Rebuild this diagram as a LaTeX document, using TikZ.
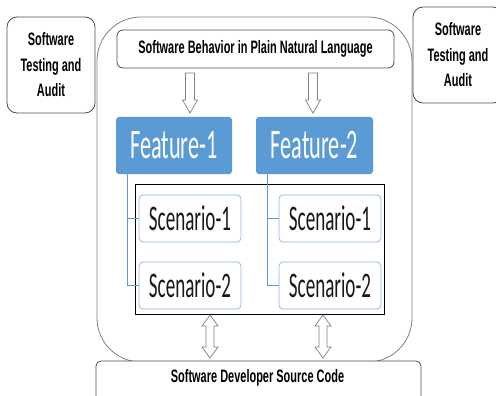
\documentclass[tikz,border=0pt]{standalone}
\usepackage{fontspec}
\newfontfamily\narrowfont[FakeStretch=0.61]{Liberation Sans}
\newfontfamily\calfont[FakeStretch=0.53]{Carlito}
\definecolor{featblue}{HTML}{5B9BD5}
\definecolor{scenblue}{HTML}{8EB4E3}
\definecolor{framegray}{HTML}{7F7F7F}
\tikzset{
  labeltext/.style={font=\narrowfont\bfseries\fontsize{18}{25.5}\selectfont, align=center, text=black},
  sidebox/.style={labeltext, draw=black!70, line width=0.8pt, rounded corners=10pt, inner sep=0pt},
  topbox/.style={labeltext, draw=black!70, line width=0.8pt, rounded corners=6pt, inner sep=0pt},
  featbox/.style={fill=featblue, rounded corners=3pt, inner sep=0pt, text=white,
    font=\calfont\fontsize{42}{44}\selectfont},
  scenbox/.style={draw=scenblue, line width=0.7pt, fill=white, rounded corners=4pt, inner sep=0pt,
    minimum width=102pt, minimum height=47pt, text=black!90, font=\calfont\fontsize{36}{38}\selectfont},
  tree/.style={draw=featblue, line width=0.7pt},
  hollow/.style={draw=framegray, fill=white, line width=0.7pt, line join=miter},
}
% hollow down arrow hanging from a named point (shaft 9, head 15 wide, 40 long)
\newcommand\hollowdown[1]{%
  \draw[hollow] (#1) ++(-4.5,0) -- ++(9,0) -- ++(0,27) -- ++(3,0) -- ++(-7.5,13)
    -- ++(-7.5,-13) -- ++(3,0) -- cycle;}
% hollow two-way arrow starting at a named top point (43 long)
\newcommand\hollowboth[1]{%
  \draw[hollow] (#1) -- ++(8,11) -- ++(-4,0) -- ++(0,21) -- ++(4,0) -- ++(-8,11)
    -- ++(-8,-11) -- ++(4,0) -- ++(0,-21) -- ++(-4,0) -- cycle;}
\begin{document}
\begin{tikzpicture}[x=1pt,y=-1pt]
\useasboundingbox (0,0) rectangle (496,396);
\clip (0,0) rectangle (496,396);

% outer frame around the behaviour description
\draw[framegray, line width=0.8pt, rounded corners=44pt] (97,17) rectangle (412,362);

% side boxes
\node[sidebox, minimum width=88pt, minimum height=96pt] (auditL) at (51,65) {Software\\Testing and\\Audit};
\node[sidebox, minimum width=90pt, minimum height=96pt] (auditR) at (458,55) {Software\\Testing and\\Audit};

% plain-language behaviour
\node[topbox, minimum width=277pt, minimum height=38pt] (behav) at (255.5,49) {Software Behavior in Plain Natural Language};

% features
\node[featbox, minimum width=116pt, minimum height=57pt] (f1) at (174,145.5) {Feature-1};
\node[featbox, minimum width=117pt, minimum height=57pt] (f2) at (314.5,145.5) {Feature-2};

% arrows from behaviour to features
\coordinate (a1) at (190,73);
\coordinate (a2) at (313,73);
\hollowdown{a1}
\hollowdown{a2}

% scenario group frame
\node[draw=black, line width=0.8pt, minimum width=249pt, minimum height=130pt, inner sep=0pt] (group) at (259.5,249) {};

% scenarios
\node[scenbox] (s11) at (190,218.5) {Scenario-1};
\node[scenbox] (s12) at (190,285.5) {Scenario-2};
\node[scenbox] (s21) at (330,218.5) {Scenario-1};
\node[scenbox] (s22) at (330,285.5) {Scenario-2};

% feature-to-scenario tree lines
\coordinate (t1) at (127,174);
\coordinate (t2) at (267,174);
\draw[tree] (t1) |- (s11.west);
\draw[tree] (t1) |- (s12.west);
\draw[tree] (t2) |- (s21.west);
\draw[tree] (t2) |- (s22.west);

% source code box
\node[draw=black!70, line width=0.8pt, fill=white, rounded corners=5pt, minimum width=325pt,
  minimum height=50pt, inner sep=0pt] (src) at (258.5,386) {};
\node[labeltext] (srctext) at (257.5,377.5) {Software Developer Source Code};

% two-way arrows between scenarios and source code
\coordinate (b1) at (210,315);
\coordinate (b2) at (323,315);
\hollowboth{b1}
\hollowboth{b2}
\end{tikzpicture}
\end{document}
